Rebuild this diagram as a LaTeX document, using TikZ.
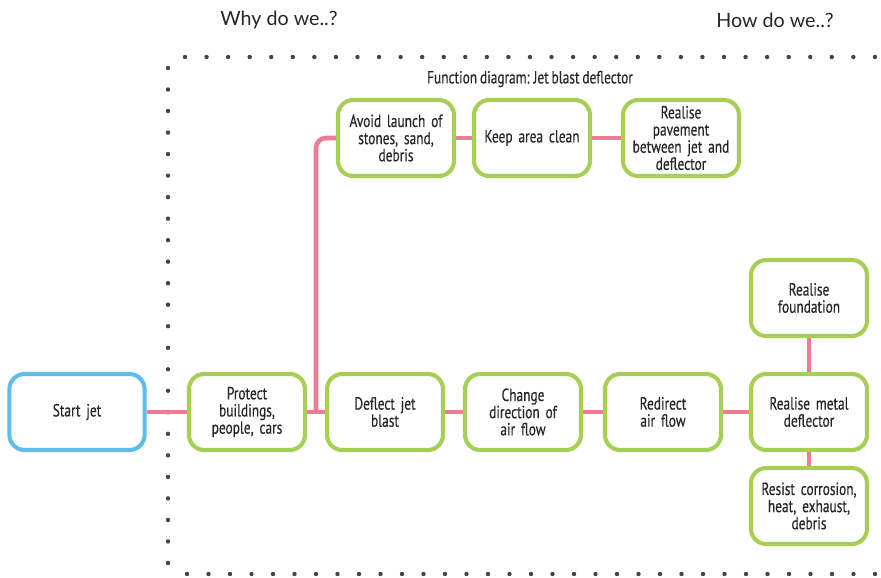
\documentclass[tikz,border=0pt]{standalone}
\usepackage{fontspec}
\setmainfont{PT Sans}[FakeStretch=0.76, FakeBold=0.4, WordSpace=0.8]
\newfontfamily\headfont{Lato}
\definecolor{fgreen}{RGB}{166,207,84}
\definecolor{fblue}{RGB}{95,189,233}
\definecolor{fpink}{RGB}{240,124,148}
\definecolor{fdot}{RGB}{68,68,68}
\begin{document}
\begin{tikzpicture}[x=0.025cm, y=-0.025cm,
    func/.style={draw=fgreen, line width=2.9pt, rounded corners=0.38cm, fill=white,
      minimum width=2.9cm, minimum height=1.9cm, text width=2.7cm, align=center,
      inner sep=0pt, font=\fontsize{12.5}{12.2}\selectfont, text=black!85},
    start/.style={func, draw=fblue, minimum width=3.38cm},
    link/.style={draw=fpink, line width=3.3pt},
    head/.style={font=\headfont\fontsize{14}{16}\selectfont, text=black!85}]
    \useasboundingbox (0,0) rectangle (881,578);

    % dotted frame
    \foreach \i in {0,...,32} {
        \fill[fdot] (185+\i*21.56,57) circle (2.2);
        \fill[fdot] (187+\i*21.5,574) circle (2.2);
    }
    \foreach \j in {0,...,23} \fill[fdot] (168,68+\j*21.52) circle (2.2);

    \node[head] (why) at (279,20) {Why do we..?};
    \node[head] (how) at (775,20) {How do we..?};
    \node[font=\fontsize{12.5}{14}\selectfont, text=black!85] (title) at (530,79) {Function diagram: Jet blast deflector};

    % main row
    \node[start] (startjet) at (77,412) {Start jet};
    \node[func] (protect) at (247,412) {Protect\\buildings,\\people, cars};
    \node[func] (deflect) at (385,412) {Deflect jet\\blast};
    \node[func] (change) at (523,412) {Change\\direction of\\air flow};
    \node[func] (redirect) at (663,412) {Redirect\\air flow};
    \node[func] (metal) at (809,412) {Realise metal\\deflector};
    \node[func] (foundation) at (809,298) {Realise\\foundation};
    \node[func] (resist) at (809,506) {Resist corrosion,\\heat, exhaust,\\debris};

    % upper row
    \node[func] (avoid) at (396,138) {Avoid launch of\\stones, sand,\\debris};
    \node[func] (clean) at (532,138) {Keep area clean};
    \node[func] (pavement) at (681,138) {Realise\\pavement\\between jet and\\deflector};

    \coordinate (branch) at (316,412);

    \draw[link] (startjet) -- (protect);
    \draw[link] (protect) -- (deflect);
    \draw[link, rounded corners=0.25cm] (branch) |- (avoid);
    \draw[link] (deflect) -- (change);
    \draw[link] (change) -- (redirect);
    \draw[link] (redirect) -- (metal);
    \draw[link] (metal) -- (foundation);
    \draw[link] (metal) -- (resist);
    \draw[link] (avoid) -- (clean);
    \draw[link] (clean) -- (pavement);
\end{tikzpicture}
\end{document}
